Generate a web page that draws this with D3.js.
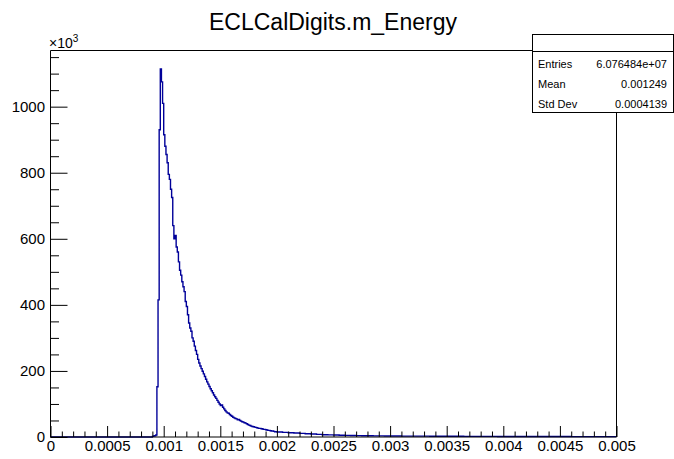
<!DOCTYPE html>
<html>
<head>
<meta charset="utf-8">
<script src="https://cdn.jsdelivr.net/npm/d3@7"></script>
<style>
  html, body { margin: 0; padding: 0; background: #fff; }
  svg { display: block; }
  text { font-family: "Liberation Sans", Arial, Helvetica, sans-serif; fill: #000; }
</style>
</head>
<body>
<svg id="chart" width="674" height="459"></svg>
<script>
// ---------------- data (counts in units of 10^3) ----------------
const title = "ECLCalDigits.m_Energy";
const xDomain = [0, 0.005];
const yDomain = [0, 1170];

// fine bins: width 1e-5, starting at 0.0009
const fineStart = 0.0009;
const fineWidth = 0.00001;
const fineCounts = [
  2, 3, 4, 6, 152, 415, 930, 1114, 1075, 1010,
  915, 880, 855, 830, 795, 780, 750, 725, 640, 600,
  610, 575, 560, 530, 505, 490, 470, 455, 440, 410,
  395, 370, 345, 330, 320, 300, 290, 275, 262, 250,
  235, 224, 215, 207, 199, 191, 183, 175, 167, 160,
  153, 146, 140, 134, 127, 122, 117, 111, 105, 100,
  95, 97, 90, 85, 80, 76, 73, 72, 68, 65,
  63, 60, 58, 56, 55, 52, 53, 50, 48, 46,
  45, 43, 42, 40, 38, 36, 35, 33, 32, 31,
  30, 29, 28, 27, 26, 26, 25, 24, 23, 23,
  22, 21, 20, 20, 19, 18, 18, 17, 16, 16
];
// tail bins: width 5e-5, starting at 0.002
const tailStart = 0.002;
const tailWidth = 0.00005;
const tailCounts = [
  15, 14, 13, 12, 11, 10, 9, 8, 7, 6.5,
  6, 5.5, 5, 4.5, 4.2, 4, 3.7, 3.5, 3.3, 3.1,
  3, 2.9, 2.8, 2.7, 2.6, 2.6, 2.5, 2.4, 2.4, 2.3,
  2.2, 2.2, 2.1, 2.0, 2.0, 1.9, 1.9, 1.8, 1.8, 1.7,
  1.7, 1.6, 1.6, 1.5, 1.5, 1.5, 1.4, 1.4, 1.4, 1.3,
  1.3, 1.3, 1.2, 1.2, 1.2, 1.1, 1.1, 1.1, 1.0, 1.0
];

const xMajorTicks = [0, 0.0005, 0.001, 0.0015, 0.002, 0.0025, 0.003, 0.0035, 0.004, 0.0045, 0.005];
const xTickLabels = ["0", "0.0005", "0.001", "0.0015", "0.002", "0.0025", "0.003", "0.0035", "0.004", "0.0045", "0.005"];
const yMajorTicks = [0, 200, 400, 600, 800, 1000];
const yTickLabels = ["0", "200", "400", "600", "800", "1000"];

const statsLabels = ["Entries", "Mean", "Std Dev"];
const statsValues = ["6.076484e+07", "0.001249", "0.0004139"];

// ---------------- layout ----------------
const frame = { left: 50.5, right: 616.5, top: 50.5, bottom: 437 };
const box = { left: 532.5, right: 673.5, top: 34.5, header: 51.5, bottom: 112.5 };

const svg = d3.select("#chart");
const x = d3.scaleLinear().domain(xDomain).range([frame.left, frame.right]);
const y = d3.scaleLinear().domain(yDomain).range([frame.bottom, frame.top]);

// title
svg.append("text")
  .attr("x", 333).attr("y", 30)
  .attr("text-anchor", "middle")
  .style("font-size", "23px")
  .text(title);

// build bins
const bins = [];
fineCounts.forEach((c, i) => bins.push({ lo: fineStart + i * fineWidth, hi: fineStart + (i + 1) * fineWidth, c }));
tailCounts.forEach((c, i) => bins.push({ lo: tailStart + i * tailWidth, hi: tailStart + (i + 1) * tailWidth, c }));

// histogram outline
const pts = [[xDomain[0], 0], [bins[0].lo, 0]];
bins.forEach(b => { pts.push([b.lo, b.c]); pts.push([b.hi, b.c]); });
const line = d3.line().x(d => x(d[0])).y(d => y(d[1]));
svg.append("path")
  .attr("d", line(pts))
  .attr("fill", "none")
  .attr("stroke", "#000099")
  .attr("stroke-width", 1.4)
  .attr("stroke-linejoin", "miter");

// y axis major
const yAxis = d3.axisLeft(y).tickValues(yMajorTicks)
  .tickFormat((d, i) => yTickLabels[i])
  .tickSize(-17).tickSizeOuter(0).tickPadding(5.5);
const gy = svg.append("g").attr("transform", `translate(${frame.left},0)`).call(yAxis);
gy.select(".domain").remove();
gy.selectAll("text").style("font-size", "15px");
gy.selectAll("line").attr("stroke", "#000");

// y axis minor
const yMinor = d3.range(0, 1151, 50).filter(v => v % 200 !== 0);
const gy2 = svg.append("g").attr("transform", `translate(${frame.left},0)`)
  .call(d3.axisLeft(y).tickValues(yMinor).tickFormat("").tickSize(-8.5).tickSizeOuter(0));
gy2.select(".domain").remove();
gy2.selectAll("line").attr("stroke", "#000");

// x axis major
const xAxis = d3.axisBottom(x).tickValues(xMajorTicks)
  .tickFormat((d, i) => xTickLabels[i])
  .tickSize(-11).tickSizeOuter(0).tickPadding(3);
const gx = svg.append("g").attr("transform", `translate(0,${frame.bottom})`).call(xAxis);
gx.select(".domain").remove();
gx.selectAll("text").style("font-size", "15px");
gx.selectAll("line").attr("stroke", "#000");

// x axis minor
const xMinor = d3.range(0, 51).map(i => i * 0.0001).filter((v, i) => i % 5 !== 0);
const gx2 = svg.append("g").attr("transform", `translate(0,${frame.bottom})`)
  .call(d3.axisBottom(x).tickValues(xMinor).tickFormat("").tickSize(-5.5).tickSizeOuter(0));
gx2.select(".domain").remove();
gx2.selectAll("line").attr("stroke", "#000");

// frame
const fr = svg.append("g").attr("stroke", "#000").attr("stroke-width", 1).attr("fill", "none");
fr.append("line").attr("x1", frame.left).attr("x2", frame.left).attr("y1", frame.top).attr("y2", frame.bottom);
fr.append("line").attr("x1", frame.left).attr("x2", frame.right).attr("y1", frame.bottom).attr("y2", frame.bottom);
fr.append("line").attr("x1", frame.left).attr("x2", box.left).attr("y1", frame.top).attr("y2", frame.top);
fr.append("line").attr("x1", frame.right).attr("x2", frame.right).attr("y1", box.bottom).attr("y2", frame.bottom);

// x10^3 label
const exp = svg.append("text").attr("x", 49).attr("y", 48).style("font-size", "14px");
exp.append("tspan").text("\u00d710");
exp.append("tspan").attr("dy", -6).style("font-size", "10px").text("3");

// stats box
svg.append("rect")
  .attr("x", box.left).attr("y", box.top)
  .attr("width", box.right - box.left).attr("height", box.bottom - box.top)
  .attr("fill", "#fff").attr("stroke", "#000").attr("stroke-width", 1);
svg.append("line")
  .attr("x1", box.left).attr("x2", box.right).attr("y1", box.header).attr("y2", box.header)
  .attr("stroke", "#000").attr("stroke-width", 1);
const rowY = [67.5, 87.5, 107.5];
statsLabels.forEach((lab, i) => {
  svg.append("text").attr("x", 538).attr("y", rowY[i]).style("font-size", "11px").text(lab);
  svg.append("text").attr("x", 667).attr("y", rowY[i]).attr("text-anchor", "end").style("font-size", "11px").text(statsValues[i]);
});
</script>
</body>
</html>
